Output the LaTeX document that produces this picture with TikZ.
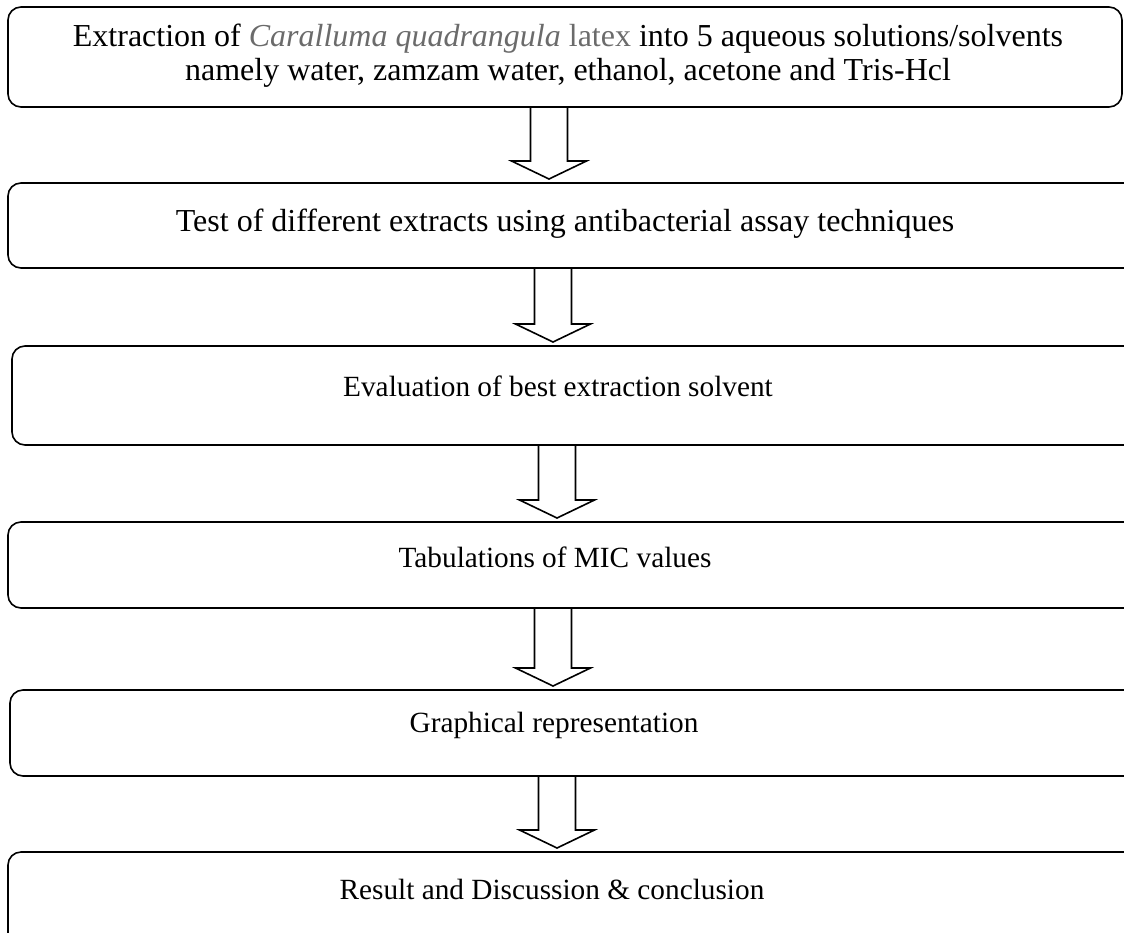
\documentclass[tikz,border=0pt]{standalone}
\usepackage{fontspec}
\setmainfont{Liberation Serif}
\usetikzlibrary{calc}
\definecolor{latexgray}{gray}{0.42}
\tikzset{
  box/.style={draw, line width=1.6pt, rounded corners=13pt, inner sep=0pt, outer sep=0pt},
  lbl/.style={font=\fontsize{32}{34}\selectfont, align=center, inner sep=0pt},
  lblsmall/.style={lbl, font=\fontsize{29.3}{34}\selectfont},
  blockar/.style={draw, line width=1.6pt, fill=white, line join=miter}
}
\newcommand{\blockarrow}[3]{%
  \draw[blockar] let \p1=(#1.south), \p2=(#2.north) in
    (#3pt-18.5pt,\y1) -- (#3pt-18.5pt,\y2+22pt) -- (#3pt-37.5pt,\y2+22pt) --
    (#3pt,\y2+4pt) -- (#3pt+37.5pt,\y2+22pt) -- (#3pt+18.5pt,\y2+22pt) --
    (#3pt+18.5pt,\y1) -- cycle;}
\begin{document}
\begin{tikzpicture}
\useasboundingbox (0pt,0pt) rectangle (1124pt,-932pt);
% boxes
\node[box, minimum width=1114pt, minimum height=100pt] (b1) at (565pt,-57pt) {};
\node[box, minimum width=1132pt, minimum height=85pt]  (b2) at (574pt,-225.5pt) {};
\node[box, minimum width=1128pt, minimum height=99pt]  (b3) at (576pt,-395.5pt) {};
\node[box, minimum width=1132pt, minimum height=86pt]  (b4) at (574pt,-565pt) {};
\node[box, minimum width=1130pt, minimum height=86pt]  (b5) at (575pt,-733pt) {};
\node[box, minimum width=1132pt, minimum height=98pt]  (b6) at (574pt,-901pt) {};
% texts
\node[lbl] (t1) at (568pt,-56pt) {Extraction of {\color{latexgray}\itshape Caralluma quadrangula} {\color{latexgray}latex} into 5 aqueous solutions/solvents\\namely water, zamzam water, ethanol, acetone and Tris-Hcl};
\node[lbl] (t2) at (565pt,-224pt) {Test of different extracts using antibacterial assay techniques};
\node[lblsmall] (t3) at (558pt,-386pt) {Evaluation of best extraction solvent};
\node[lblsmall] (t4) at (555pt,-557pt) {Tabulations of MIC values};
\node[lblsmall] (t5) at (554pt,-725pt) {Graphical representation};
\node[lblsmall] (t6) at (552pt,-889pt) {Result and Discussion \& conclusion};
% arrows
\blockarrow{b1}{b2}{549}
\blockarrow{b2}{b3}{553}
\blockarrow{b3}{b4}{557}
\blockarrow{b4}{b5}{553}
\blockarrow{b5}{b6}{557}
\end{tikzpicture}
\end{document}
